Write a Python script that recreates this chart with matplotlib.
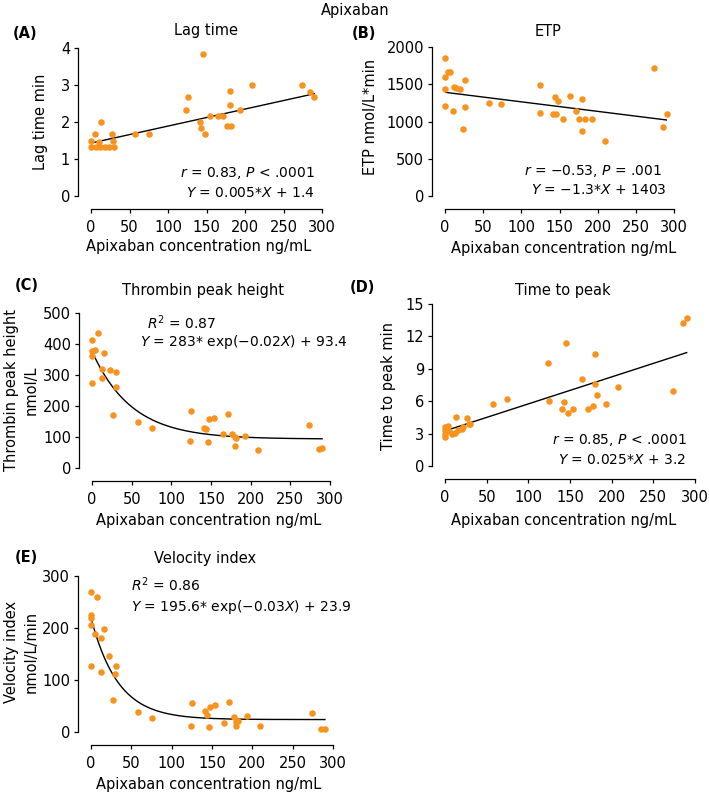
import numpy as np
import matplotlib
matplotlib.use("Agg")
import matplotlib.pyplot as plt

W, H = 709, 796
ORANGE = "#f7931e"

# (A) lag time, min
lag_x = [0, 6, 12, 18, 24, 30, 0, 11, 29, 5, 27, 13, 57, 75, 124, 126, 141, 143, 145,
         148, 154, 165, 171, 176, 180, 180, 182, 193, 209, 274, 285, 289]
lag_y = [1.33, 1.33, 1.33, 1.33, 1.33, 1.33, 1.5, 1.45, 1.5, 1.67, 1.67, 2.0, 1.67, 1.67,
         2.33, 2.67, 2.0, 1.83, 3.83, 1.67, 2.17, 2.17, 2.17, 1.88, 2.83, 2.47, 1.88,
         2.33, 3.0, 3.0, 2.8, 2.67]

# (B) ETP, nmol/L*min
etp_x = [0, 0, 4, 7, 0, 0, 12, 15, 20, 11, 24, 26, 26, 57, 74, 124, 125, 141, 144, 145,
         148, 154, 164, 172, 176, 179, 179, 183, 193, 209, 274, 285, 291]
etp_y = [1857, 1601, 1664, 1668, 1436, 1208, 1467, 1454, 1436, 1145, 895, 1557, 1199,
         1250, 1237, 1116, 1496, 1103, 1330, 1094, 1281, 1036, 1348, 1143, 1036, 1299,
         871, 1036, 1031, 737, 1719, 929, 1094]

# (C) thrombin peak height, nmol/L
thr_x = [7, 0, 0, 4, 0, 15, 12, 23, 30, 13, 0, 30, 27, 58, 75, 125, 124, 141, 144, 146,
         148, 154, 165, 172, 177, 180, 182, 180, 193, 209, 274, 286, 290]
thr_y = [434, 412, 378, 380, 362, 371, 319, 317, 310, 290, 274, 260, 172, 150, 128, 184,
         86, 128, 126, 85, 158, 161, 109, 174, 110, 99, 98, 72, 103, 57, 139, 60, 66]

# (D) time to peak, min
ttp_x = [0, 0, 0, 0, 3, 5, 8, 12, 13, 16, 20, 22, 26, 29, 30, 57, 74, 124, 125, 140,
         143, 145, 147, 153, 164, 172, 177, 180, 180, 182, 193, 208, 274, 285, 290]
ttp_y = [2.7, 3.0, 3.3, 3.6, 3.7, 3.2, 3.0, 3.1, 4.5, 3.3, 3.4, 3.6, 4.45, 3.85, 3.9,
         5.7, 6.2, 9.55, 6.05, 5.25, 5.9, 11.4, 4.9, 5.25, 8.05, 5.25, 5.6, 10.4, 7.55,
         6.6, 5.75, 7.35, 6.9, 13.25, 13.7]

# (E) velocity index, nmol/L/min
vel_x = [0, 8, 0, 0, 0, 16, 5, 12, 22, 0, 31, 13, 30, 27, 58, 75, 125, 124, 141, 144,
         146, 148, 154, 165, 171, 177, 180, 180, 182, 193, 209, 274, 285, 290]
vel_y = [270, 259, 225, 220, 206, 199, 189, 180, 147, 127, 127, 116, 111, 62, 38, 27,
         55, 11, 40, 32, 10, 49, 52, 18, 58, 28, 20, 11, 22, 30, 12, 36, 5, 5]

xticks = [0, 50, 100, 150, 200, 250, 300]
xlabel = "Apixaban concentration ng/mL"

plt.rcParams["font.family"] = ["DejaVu Sans"]
plt.rcParams["font.size"] = 10.5
plt.rcParams["mathtext.fontset"] = "dejavusans"

fig = plt.figure(figsize=(W / 100, H / 100), dpi=100)


def ftext(px, py, s, **kw):
    fig.text(px / W, 1 - py / H, s, ha="center", va="center", **kw)


def add_panel(box, xs, ys, ymax, ystep):
    x0, x1, top, bot = box
    ax = fig.add_axes([x0 / W, 1 - bot / H, (x1 - x0) / W, (bot - top) / H])
    ax.patch.set_visible(False)
    ax.scatter(xs, ys, s=22, color=ORANGE, linewidths=0, clip_on=False, zorder=3)
    ax.set_xlim(0, 300)
    ax.set_ylim(0, ymax)
    ax.set_xticks(xticks)
    ax.set_yticks(np.arange(0, ymax + ystep, ystep))
    for s in ["top", "right"]:
        ax.spines[s].set_visible(False)
    for s in ["left", "bottom"]:
        ax.spines[s].set_position(("outward", 9.5))
        ax.spines[s].set_linewidth(0.9)
    ax.tick_params(length=3, width=0.9, labelsize=10.5)
    ax.tick_params(axis="x", pad=5)
    ax.tick_params(axis="y", pad=2.5)
    return ax


def fit_line(ax, slope, icpt, x0=3, x1=290):
    xx = np.linspace(x0, x1, 100)
    ax.plot(xx, slope * xx + icpt, color="black", lw=1.0, zorder=2)


def fit_exp(ax, a, k, c, x0=2, x1=290):
    xx = np.linspace(x0, x1, 200)
    ax.plot(xx, a * np.exp(k * xx) + c, color="black", lw=1.0, zorder=2)


ftext(355, 10, "Apixaban")

# (A)
ax = add_panel((91, 322, 48, 196), lag_x, lag_y, 4, 1)
fit_line(ax, 0.0046, 1.43)
ax.text(291, 0.61, r"$r$ = 0.83, $P$ < .0001", ha="right", va="center", fontsize=10)
ax.text(291, 0.09, r"$Y$ = 0.005*$X$ + 1.4", ha="right", va="center", fontsize=10)
ftext(25, 33, "(A)", fontweight="bold")
ftext(206, 30, "Lag time")
ftext(41, 122, "Lag time min", rotation=90)
ftext(199, 247, xlabel)

# (B)
ax = add_panel((445, 674, 47, 196), etp_x, etp_y, 2000, 500)
fit_line(ax, -1.28, 1392, 0, 290)
ax.text(284, 340, r"$r$ = −0.53, $P$ = .001", ha="right", va="center", fontsize=10)
ax.text(290, 80, r"$Y$ = −1.3*$X$ + 1403", ha="right", va="center", fontsize=10)
ftext(364, 33, "(B)", fontweight="bold")
ftext(548, 31, "ETP")
ftext(371, 117, "ETP nmol/L*min", rotation=90)
ftext(564, 248, xlabel)

# (C)
ax = add_panel((92, 330, 313, 468), thr_x, thr_y, 500, 100)
fit_exp(ax, 283, -0.02, 93.4, 3)
ax.text(69, 468, r"$R^2$ = 0.87", ha="left", va="center", fontsize=10)
ax.text(60, 405, r"$Y$ = 283* exp(−0.02$X$) + 93.4", ha="left", va="center", fontsize=10)
ftext(27, 285, "(C)", fontweight="bold")
ftext(203, 290, "Thrombin peak height")
ftext(21, 390, "Thrombin peak height\nnmol/L", rotation=90, linespacing=1.4)
ftext(209, 521, xlabel)

# (D)
ax = add_panel((445, 695, 304, 466), ttp_x, ttp_y, 15, 3)
fit_line(ax, 0.025, 3.25)
ax.text(290, 2.4, r"$r$ = 0.85, $P$ < .0001", ha="right", va="center", fontsize=10)
ax.text(288, 0.55, r"$Y$ = 0.025*$X$ + 3.2", ha="right", va="center", fontsize=10)
ftext(362, 287, "(D)", fontweight="bold")
ftext(563, 290, "Time to peak")
ftext(388, 386, "Time to peak min", rotation=90)
ftext(564, 521, xlabel)

# (E)
ax = add_panel((91, 333, 576, 732), vel_x, vel_y, 300, 100)
fit_exp(ax, 195.6, -0.03, 23.9, 1)
ax.text(50, 284, r"$R^2$ = 0.86", ha="left", va="center", fontsize=10)
ax.text(50, 240, r"$Y$ = 195.6* exp(−0.03$X$) + 23.9", ha="left", va="center", fontsize=10)
ftext(26, 557, "(E)", fontweight="bold")
ftext(205, 558, "Velocity index")
ftext(21, 652, "Velocity index\nnmol/L/min", rotation=90, linespacing=1.4)
ftext(209, 785, xlabel)

fig.savefig("out.png", dpi=100)
